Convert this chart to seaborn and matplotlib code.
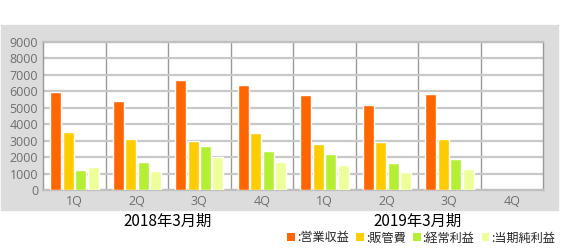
import numpy as np
import pandas as pd
import matplotlib
matplotlib.use('Agg')
import matplotlib.pyplot as plt
import matplotlib.transforms as mtransforms
from matplotlib.patches import Rectangle, Patch
import seaborn as sns

# ---- data ----
slots = ['2018-1Q', '2018-2Q', '2018-3Q', '2018-4Q', '2019-1Q', '2019-2Q', '2019-3Q', '2019-4Q']
quarter_labels = ['1Q', '2Q', '3Q', '4Q', '1Q', '2Q', '3Q', '4Q']
series = ['営業収益', '販管費', '経常利益', '当期純利益']
revenue = [5970, 5420, 6680, 6400, 5770, 5140, 5830, np.nan]
sga = [3540, 3100, 2980, 3460, 2810, 2890, 3100, np.nan]
ordinary = [1190, 1680, 2690, 2370, 2170, 1640, 1860, np.nan]
net_income = [1420, 1150, 2000, 1720, 1540, 1110, 1280, np.nan]
periods = ['2018年3月期', '2019年3月期']
period_centers = [1.5, 5.5]
yticks = [0, 1000, 2000, 3000, 4000, 5000, 6000, 7000, 8000, 9000]
colors = ['#ff6600', '#ffcc00', '#b5ef33', '#eeff99']

rows = []
for name, vals in zip(series, [revenue, sga, ordinary, net_income]):
    for s, v in zip(slots, vals):
        rows.append({'slot': s, 'series': name, 'value': v})
df = pd.DataFrame(rows)

sns.set_style('white')
plt.rcParams['font.family'] = ['Open Sans', 'DejaVu Sans', 'Noto Sans CJK JP']

W, H = 562, 250
fig = plt.figure(figsize=(W / 100, H / 100), dpi=100)
bg = Rectangle((1 / W, 1 - 210 / H), 557 / W, 185 / H,
               transform=fig.transFigure, color='#dcdcdc', zorder=-10)
fig.add_artist(bg)
ax = fig.add_axes([43 / W, 1 - 190 / H, 500 / W, 148 / H])
ax.set_zorder(1)
ax.set_facecolor('white')

sns.barplot(data=df, x='slot', y='value', hue='series', order=slots, hue_order=series,
            palette=colors, saturation=1, width=0.8, gap=0.12, legend=False,
            ax=ax, zorder=3)

ax.set_xlim(-0.5, 7.5)
ax.set_ylim(0, 9000)
ax.set_yticks(yticks)
ax.set_yticklabels([str(t) for t in yticks])
ax.set_xticks(range(len(slots)))
ax.set_xticklabels(quarter_labels)
ax.set_xticks(np.arange(0.5, 7, 1), minor=True)
ax.set_xlabel('')
ax.set_ylabel('')
ax.set_axisbelow(True)
ax.yaxis.grid(True, color='#c8c8c8', lw=1.6)
ax.xaxis.grid(True, which='minor', color='#999999', lw=1)
ax.xaxis.grid(False, which='major')
ax.tick_params(axis='both', which='both', length=0, labelcolor='#6e6e6e', labelsize=9)
ax.tick_params(axis='x', pad=3.5)
ax.tick_params(axis='y', pad=3.5)
for side in ['left', 'right']:
    ax.spines[side].set_color('#999999')
    ax.spines[side].set_linewidth(1)
for side in ['top', 'bottom']:
    ax.spines[side].set_color('#c0c0c0')
    ax.spines[side].set_linewidth(1.6)

trans = mtransforms.blended_transform_factory(ax.transData, fig.transFigure)
for p, c in zip(periods, period_centers):
    ax.text(c, 1 - 221 / H, p, transform=trans, ha='center', va='center',
            fontsize=11, family=['Noto Sans CJK JP'], color='black')

handles = [Patch(facecolor=c, edgecolor='none') for c in colors]
labels = [':' + s for s in series]
leg = fig.legend(handles, labels, loc='center right', bbox_to_anchor=(560 / W, 1 - 238 / H),
                 ncol=4, frameon=False, handlelength=0.65, handleheight=0.65,
                 handletextpad=0.15, columnspacing=0.6, borderaxespad=0,
                 prop={'family': ['Noto Sans CJK JP'], 'size': 8.7})

fig.savefig('out.png', dpi=100, facecolor='white')
